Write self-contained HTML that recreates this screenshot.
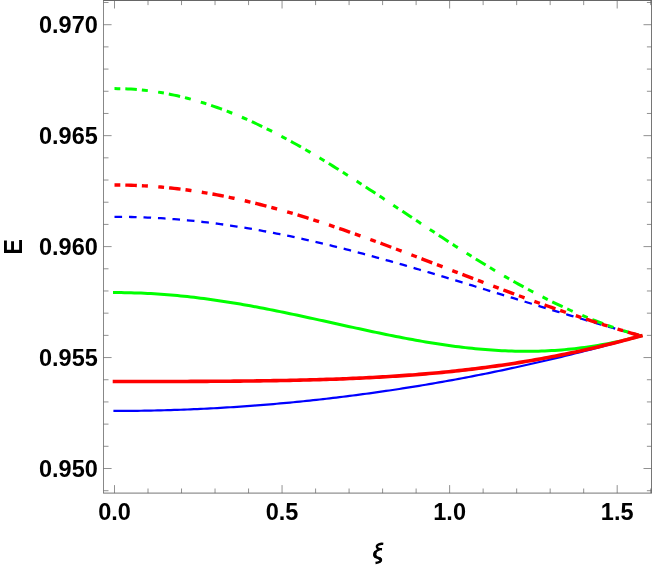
<!DOCTYPE html>
<html><head><meta charset="utf-8"><title>Plot</title>
<style>
html,body{margin:0;padding:0;background:#ffffff;}
body{width:654px;height:568px;overflow:hidden;font-family:"Liberation Sans",sans-serif;}
svg{display:block;will-change:transform;}
text{font-family:"Liberation Sans",sans-serif;font-weight:bold;font-size:23.5px;fill:#000;}
</style></head><body>
<svg width="654" height="568" viewBox="0 0 654 568">
<rect x="0" y="0" width="654" height="568" fill="#ffffff"/>
<g>
<path d="M114.50,410.95 L117.81,410.95 L121.12,410.94 L124.43,410.92 L127.74,410.90 L131.05,410.87 L134.36,410.84 L137.68,410.80 L140.99,410.76 L144.30,410.70 L147.61,410.65 L150.92,410.58 L154.23,410.51 L157.54,410.44 L160.85,410.36 L164.16,410.27 L167.47,410.17 L170.78,410.07 L174.09,409.97 L177.41,409.86 L180.72,409.74 L184.03,409.62 L187.34,409.49 L190.65,409.35 L193.96,409.21 L197.27,409.06 L200.58,408.91 L203.89,408.75 L207.20,408.58 L210.51,408.41 L213.82,408.23 L217.14,408.05 L220.45,407.86 L223.76,407.67 L227.07,407.47 L230.38,407.26 L233.69,407.05 L237.00,406.83 L240.31,406.60 L243.62,406.37 L246.93,406.14 L250.24,405.89 L253.55,405.65 L256.87,405.39 L260.18,405.13 L263.49,404.87 L266.80,404.60 L270.11,404.32 L273.42,404.04 L276.73,403.75 L280.04,403.45 L283.35,403.15 L286.66,402.85 L289.97,402.54 L293.28,402.22 L296.60,401.90 L299.91,401.57 L303.22,401.23 L306.53,400.89 L309.84,400.54 L313.15,400.19 L316.46,399.83 L319.77,399.47 L323.08,399.10 L326.39,398.72 L329.70,398.34 L333.01,397.95 L336.33,397.56 L339.64,397.16 L342.95,396.76 L346.26,396.35 L349.57,395.93 L352.88,395.51 L356.19,395.08 L359.50,394.64 L362.81,394.20 L366.12,393.76 L369.43,393.31 L372.74,392.85 L376.06,392.39 L379.37,391.92 L382.68,391.44 L385.99,390.96 L389.30,390.47 L392.61,389.98 L395.92,389.48 L399.23,388.97 L402.54,388.46 L405.85,387.94 L409.16,387.42 L412.47,386.89 L415.78,386.36 L419.10,385.82 L422.41,385.27 L425.72,384.72 L429.03,384.16 L432.34,383.59 L435.65,383.02 L438.96,382.44 L442.27,381.86 L445.58,381.27 L448.89,380.67 L452.20,380.07 L455.51,379.46 L458.83,378.85 L462.14,378.23 L465.45,377.60 L468.76,376.97 L472.07,376.33 L475.38,375.69 L478.69,375.04 L482.00,374.38 L485.31,373.72 L488.62,373.05 L491.93,372.38 L495.24,371.69 L498.56,371.01 L501.87,370.31 L505.18,369.62 L508.49,368.91 L511.80,368.20 L515.11,367.48 L518.42,366.76 L521.73,366.03 L525.04,365.29 L528.35,364.55 L531.66,363.80 L534.97,363.05 L538.29,362.29 L541.60,361.53 L544.91,360.75 L548.22,359.98 L551.53,359.19 L554.84,358.40 L558.15,357.61 L561.46,356.81 L564.77,356.00 L568.08,355.19 L571.39,354.37 L574.70,353.54 L578.02,352.71 L581.33,351.88 L584.64,351.04 L587.95,350.19 L591.26,349.34 L594.57,348.48 L597.88,347.62 L601.19,346.75 L604.50,345.87 L607.81,344.99 L611.12,344.11 L614.43,343.21 L617.75,342.32 L621.06,341.42 L624.37,340.51 L627.68,339.60 L630.99,338.68 L634.30,337.76 L637.61,336.83 L640.92,335.90" fill="none" stroke="#0000ff" stroke-width="2.2" stroke-linecap="square" stroke-linejoin="round"/>
<path d="M114.50,216.80 L117.81,216.81 L121.12,216.83 L124.43,216.87 L127.74,216.92 L131.05,216.98 L134.36,217.06 L137.68,217.16 L140.99,217.27 L144.30,217.39 L147.61,217.53 L150.92,217.68 L154.23,217.85 L157.54,218.03 L160.85,218.22 L164.16,218.43 L167.47,218.66 L170.78,218.90 L174.09,219.15 L177.41,219.41 L180.72,219.69 L184.03,219.99 L187.34,220.30 L190.65,220.62 L193.96,220.95 L197.27,221.30 L200.58,221.67 L203.89,222.04 L207.20,222.43 L210.51,222.84 L213.82,223.25 L217.14,223.68 L220.45,224.12 L223.76,224.58 L227.07,225.05 L230.38,225.53 L233.69,226.02 L237.00,226.53 L240.31,227.04 L243.62,227.57 L246.93,228.12 L250.24,228.67 L253.55,229.24 L256.87,229.82 L260.18,230.41 L263.49,231.01 L266.80,231.62 L270.11,232.24 L273.42,232.88 L276.73,233.52 L280.04,234.18 L283.35,234.85 L286.66,235.53 L289.97,236.22 L293.28,236.92 L296.60,237.62 L299.91,238.34 L303.22,239.07 L306.53,239.81 L309.84,240.56 L313.15,241.32 L316.46,242.08 L319.77,242.86 L323.08,243.64 L326.39,244.44 L329.70,245.24 L333.01,246.05 L336.33,246.87 L339.64,247.69 L342.95,248.53 L346.26,249.37 L349.57,250.22 L352.88,251.08 L356.19,251.94 L359.50,252.81 L362.81,253.69 L366.12,254.58 L369.43,255.47 L372.74,256.37 L376.06,257.27 L379.37,258.18 L382.68,259.10 L385.99,260.02 L389.30,260.95 L392.61,261.88 L395.92,262.82 L399.23,263.77 L402.54,264.71 L405.85,265.67 L409.16,266.62 L412.47,267.59 L415.78,268.55 L419.10,269.52 L422.41,270.50 L425.72,271.47 L429.03,272.46 L432.34,273.44 L435.65,274.43 L438.96,275.42 L442.27,276.41 L445.58,277.41 L448.89,278.41 L452.20,279.41 L455.51,280.41 L458.83,281.42 L462.14,282.43 L465.45,283.44 L468.76,284.45 L472.07,285.46 L475.38,286.48 L478.69,287.49 L482.00,288.51 L485.31,289.52 L488.62,290.54 L491.93,291.56 L495.24,292.58 L498.56,293.60 L501.87,294.62 L505.18,295.63 L508.49,296.65 L511.80,297.67 L515.11,298.69 L518.42,299.71 L521.73,300.72 L525.04,301.74 L528.35,302.76 L531.66,303.77 L534.97,304.78 L538.29,305.79 L541.60,306.80 L544.91,307.81 L548.22,308.82 L551.53,309.83 L554.84,310.83 L558.15,311.83 L561.46,312.83 L564.77,313.83 L568.08,314.82 L571.39,315.81 L574.70,316.80 L578.02,317.79 L581.33,318.77 L584.64,319.75 L587.95,320.73 L591.26,321.70 L594.57,322.68 L597.88,323.64 L601.19,324.61 L604.50,325.57 L607.81,326.53 L611.12,327.48 L614.43,328.44 L617.75,329.38 L621.06,330.33 L624.37,331.26 L627.68,332.20 L630.99,333.13 L634.30,334.06 L637.61,334.98 L640.92,335.90" fill="none" stroke="#0000ff" stroke-width="2.3" stroke-dasharray="7.6 6.9" stroke-linejoin="round"/>
<path d="M114.50,292.58 L117.81,292.59 L121.12,292.61 L124.43,292.66 L127.74,292.72 L131.05,292.79 L134.36,292.89 L137.68,293.00 L140.99,293.12 L144.30,293.27 L147.61,293.43 L150.92,293.60 L154.23,293.80 L157.54,294.00 L160.85,294.23 L164.16,294.47 L167.47,294.73 L170.78,295.00 L174.09,295.29 L177.41,295.60 L180.72,295.92 L184.03,296.26 L187.34,296.61 L190.65,296.97 L193.96,297.35 L197.27,297.75 L200.58,298.16 L203.89,298.58 L207.20,299.02 L210.51,299.47 L213.82,299.93 L217.14,300.41 L220.45,300.90 L223.76,301.40 L227.07,301.92 L230.38,302.45 L233.69,302.99 L237.00,303.54 L240.31,304.10 L243.62,304.67 L246.93,305.26 L250.24,305.85 L253.55,306.46 L256.87,307.07 L260.18,307.69 L263.49,308.32 L266.80,308.97 L270.11,309.61 L273.42,310.27 L276.73,310.94 L280.04,311.61 L283.35,312.29 L286.66,312.97 L289.97,313.66 L293.28,314.36 L296.60,315.06 L299.91,315.77 L303.22,316.48 L306.53,317.19 L309.84,317.91 L313.15,318.64 L316.46,319.36 L319.77,320.09 L323.08,320.82 L326.39,321.55 L329.70,322.28 L333.01,323.01 L336.33,323.74 L339.64,324.48 L342.95,325.21 L346.26,325.94 L349.57,326.67 L352.88,327.39 L356.19,328.12 L359.50,328.84 L362.81,329.56 L366.12,330.27 L369.43,330.98 L372.74,331.68 L376.06,332.38 L379.37,333.08 L382.68,333.76 L385.99,334.45 L389.30,335.12 L392.61,335.79 L395.92,336.44 L399.23,337.09 L402.54,337.73 L405.85,338.37 L409.16,338.99 L412.47,339.60 L415.78,340.20 L419.10,340.79 L422.41,341.37 L425.72,341.93 L429.03,342.49 L432.34,343.03 L435.65,343.55 L438.96,344.07 L442.27,344.57 L445.58,345.05 L448.89,345.52 L452.20,345.97 L455.51,346.41 L458.83,346.83 L462.14,347.24 L465.45,347.63 L468.76,348.00 L472.07,348.35 L475.38,348.69 L478.69,349.00 L482.00,349.30 L485.31,349.58 L488.62,349.83 L491.93,350.07 L495.24,350.29 L498.56,350.49 L501.87,350.66 L505.18,350.82 L508.49,350.95 L511.80,351.06 L515.11,351.15 L518.42,351.22 L521.73,351.26 L525.04,351.28 L528.35,351.28 L531.66,351.25 L534.97,351.20 L538.29,351.13 L541.60,351.03 L544.91,350.90 L548.22,350.76 L551.53,350.58 L554.84,350.38 L558.15,350.16 L561.46,349.91 L564.77,349.63 L568.08,349.33 L571.39,349.00 L574.70,348.65 L578.02,348.27 L581.33,347.86 L584.64,347.43 L587.95,346.97 L591.26,346.48 L594.57,345.96 L597.88,345.42 L601.19,344.85 L604.50,344.26 L607.81,343.63 L611.12,342.98 L614.43,342.31 L617.75,341.60 L621.06,340.87 L624.37,340.11 L627.68,339.32 L630.99,338.51 L634.30,337.67 L637.61,336.80 L640.92,335.90" fill="none" stroke="#00ff00" stroke-width="3.0" stroke-linecap="square" stroke-linejoin="round"/>
<path d="M114.50,88.62 L117.81,88.64 L121.12,88.70 L124.43,88.80 L127.74,88.94 L131.05,89.12 L134.36,89.35 L137.68,89.61 L140.99,89.91 L144.30,90.25 L147.61,90.63 L150.92,91.05 L154.23,91.51 L157.54,92.01 L160.85,92.55 L164.16,93.13 L167.47,93.75 L170.78,94.41 L174.09,95.10 L177.41,95.83 L180.72,96.60 L184.03,97.41 L187.34,98.25 L190.65,99.14 L193.96,100.05 L197.27,101.01 L200.58,102.00 L203.89,103.03 L207.20,104.09 L210.51,105.19 L213.82,106.32 L217.14,107.49 L220.45,108.69 L223.76,109.92 L227.07,111.19 L230.38,112.48 L233.69,113.82 L237.00,115.18 L240.31,116.57 L243.62,118.00 L246.93,119.45 L250.24,120.94 L253.55,122.45 L256.87,123.99 L260.18,125.57 L263.49,127.16 L266.80,128.79 L270.11,130.44 L273.42,132.12 L276.73,133.83 L280.04,135.55 L283.35,137.31 L286.66,139.08 L289.97,140.88 L293.28,142.71 L296.60,144.55 L299.91,146.42 L303.22,148.30 L306.53,150.21 L309.84,152.14 L313.15,154.08 L316.46,156.05 L319.77,158.03 L323.08,160.03 L326.39,162.04 L329.70,164.07 L333.01,166.11 L336.33,168.17 L339.64,170.24 L342.95,172.33 L346.26,174.43 L349.57,176.54 L352.88,178.66 L356.19,180.79 L359.50,182.93 L362.81,185.08 L366.12,187.24 L369.43,189.40 L372.74,191.57 L376.06,193.75 L379.37,195.93 L382.68,198.12 L385.99,200.31 L389.30,202.51 L392.61,204.71 L395.92,206.91 L399.23,209.11 L402.54,211.32 L405.85,213.52 L409.16,215.72 L412.47,217.93 L415.78,220.13 L419.10,222.32 L422.41,224.52 L425.72,226.71 L429.03,228.90 L432.34,231.08 L435.65,233.25 L438.96,235.42 L442.27,237.59 L445.58,239.74 L448.89,241.89 L452.20,244.03 L455.51,246.16 L458.83,248.28 L462.14,250.39 L465.45,252.48 L468.76,254.57 L472.07,256.64 L475.38,258.71 L478.69,260.75 L482.00,262.79 L485.31,264.81 L488.62,266.81 L491.93,268.80 L495.24,270.78 L498.56,272.73 L501.87,274.67 L505.18,276.60 L508.49,278.50 L511.80,280.39 L515.11,282.26 L518.42,284.10 L521.73,285.93 L525.04,287.74 L528.35,289.53 L531.66,291.30 L534.97,293.05 L538.29,294.77 L541.60,296.47 L544.91,298.15 L548.22,299.81 L551.53,301.45 L554.84,303.06 L558.15,304.64 L561.46,306.21 L564.77,307.75 L568.08,309.26 L571.39,310.75 L574.70,312.22 L578.02,313.65 L581.33,315.07 L584.64,316.45 L587.95,317.82 L591.26,319.15 L594.57,320.46 L597.88,321.74 L601.19,322.99 L604.50,324.22 L607.81,325.42 L611.12,326.59 L614.43,327.74 L617.75,328.86 L621.06,329.95 L624.37,331.01 L627.68,332.04 L630.99,333.05 L634.30,334.03 L637.61,334.98 L640.92,335.90" fill="none" stroke="#00ff00" stroke-width="3.0" stroke-dasharray="5.817 5.015 11.534 5.015 6.018 10.431" stroke-linejoin="round"/>
<path d="M114.50,381.55 L117.81,381.55 L121.12,381.55 L124.43,381.55 L127.74,381.55 L131.05,381.54 L134.36,381.54 L137.68,381.54 L140.99,381.54 L144.30,381.53 L147.61,381.53 L150.92,381.52 L154.23,381.52 L157.54,381.51 L160.85,381.51 L164.16,381.50 L167.47,381.49 L170.78,381.48 L174.09,381.47 L177.41,381.46 L180.72,381.45 L184.03,381.44 L187.34,381.43 L190.65,381.42 L193.96,381.40 L197.27,381.39 L200.58,381.37 L203.89,381.36 L207.20,381.34 L210.51,381.32 L213.82,381.30 L217.14,381.28 L220.45,381.26 L223.76,381.23 L227.07,381.21 L230.38,381.18 L233.69,381.15 L237.00,381.12 L240.31,381.09 L243.62,381.06 L246.93,381.02 L250.24,380.99 L253.55,380.95 L256.87,380.91 L260.18,380.86 L263.49,380.82 L266.80,380.77 L270.11,380.72 L273.42,380.67 L276.73,380.61 L280.04,380.55 L283.35,380.49 L286.66,380.43 L289.97,380.36 L293.28,380.30 L296.60,380.22 L299.91,380.15 L303.22,380.07 L306.53,379.99 L309.84,379.90 L313.15,379.81 L316.46,379.72 L319.77,379.62 L323.08,379.52 L326.39,379.42 L329.70,379.31 L333.01,379.20 L336.33,379.08 L339.64,378.96 L342.95,378.83 L346.26,378.70 L349.57,378.56 L352.88,378.42 L356.19,378.28 L359.50,378.13 L362.81,377.97 L366.12,377.81 L369.43,377.64 L372.74,377.47 L376.06,377.29 L379.37,377.11 L382.68,376.92 L385.99,376.72 L389.30,376.52 L392.61,376.31 L395.92,376.10 L399.23,375.87 L402.54,375.65 L405.85,375.41 L409.16,375.17 L412.47,374.92 L415.78,374.67 L419.10,374.40 L422.41,374.13 L425.72,373.85 L429.03,373.57 L432.34,373.28 L435.65,372.97 L438.96,372.67 L442.27,372.35 L445.58,372.02 L448.89,371.69 L452.20,371.35 L455.51,371.00 L458.83,370.64 L462.14,370.28 L465.45,369.90 L468.76,369.52 L472.07,369.12 L475.38,368.72 L478.69,368.31 L482.00,367.89 L485.31,367.46 L488.62,367.02 L491.93,366.58 L495.24,366.12 L498.56,365.65 L501.87,365.17 L505.18,364.69 L508.49,364.19 L511.80,363.69 L515.11,363.17 L518.42,362.65 L521.73,362.11 L525.04,361.56 L528.35,361.01 L531.66,360.44 L534.97,359.87 L538.29,359.28 L541.60,358.68 L544.91,358.08 L548.22,357.46 L551.53,356.83 L554.84,356.19 L558.15,355.54 L561.46,354.89 L564.77,354.22 L568.08,353.53 L571.39,352.84 L574.70,352.14 L578.02,351.43 L581.33,350.71 L584.64,349.97 L587.95,349.23 L591.26,348.48 L594.57,347.71 L597.88,346.94 L601.19,346.15 L604.50,345.35 L607.81,344.54 L611.12,343.73 L614.43,342.90 L617.75,342.06 L621.06,341.21 L624.37,340.35 L627.68,339.48 L630.99,338.60 L634.30,337.71 L637.61,336.81 L640.92,335.90" fill="none" stroke="#ff0000" stroke-width="3.6" stroke-linecap="square" stroke-linejoin="round"/>
<path d="M114.50,184.99 L117.81,185.00 L121.12,185.03 L124.43,185.09 L127.74,185.16 L131.05,185.25 L134.36,185.37 L137.68,185.51 L140.99,185.67 L144.30,185.84 L147.61,186.04 L150.92,186.27 L154.23,186.51 L157.54,186.77 L160.85,187.05 L164.16,187.36 L167.47,187.68 L170.78,188.02 L174.09,188.39 L177.41,188.77 L180.72,189.18 L184.03,189.60 L187.34,190.05 L190.65,190.51 L193.96,190.99 L197.27,191.49 L200.58,192.02 L203.89,192.56 L207.20,193.12 L210.51,193.70 L213.82,194.29 L217.14,194.91 L220.45,195.54 L223.76,196.19 L227.07,196.86 L230.38,197.55 L233.69,198.25 L237.00,198.98 L240.31,199.71 L243.62,200.47 L246.93,201.24 L250.24,202.03 L253.55,202.83 L256.87,203.65 L260.18,204.49 L263.49,205.34 L266.80,206.21 L270.11,207.09 L273.42,207.99 L276.73,208.90 L280.04,209.82 L283.35,210.76 L286.66,211.71 L289.97,212.68 L293.28,213.66 L296.60,214.65 L299.91,215.65 L303.22,216.67 L306.53,217.70 L309.84,218.74 L313.15,219.79 L316.46,220.85 L319.77,221.93 L323.08,223.01 L326.39,224.11 L329.70,225.21 L333.01,226.33 L336.33,227.45 L339.64,228.59 L342.95,229.73 L346.26,230.88 L349.57,232.04 L352.88,233.21 L356.19,234.38 L359.50,235.56 L362.81,236.75 L366.12,237.95 L369.43,239.15 L372.74,240.36 L376.06,241.58 L379.37,242.80 L382.68,244.03 L385.99,245.26 L389.30,246.49 L392.61,247.73 L395.92,248.98 L399.23,250.23 L402.54,251.48 L405.85,252.74 L409.16,254.00 L412.47,255.26 L415.78,256.52 L419.10,257.79 L422.41,259.06 L425.72,260.33 L429.03,261.60 L432.34,262.87 L435.65,264.15 L438.96,265.42 L442.27,266.69 L445.58,267.97 L448.89,269.24 L452.20,270.52 L455.51,271.79 L458.83,273.06 L462.14,274.34 L465.45,275.61 L468.76,276.87 L472.07,278.14 L475.38,279.41 L478.69,280.67 L482.00,281.93 L485.31,283.18 L488.62,284.44 L491.93,285.69 L495.24,286.94 L498.56,288.18 L501.87,289.42 L505.18,290.65 L508.49,291.89 L511.80,293.11 L515.11,294.33 L518.42,295.55 L521.73,296.76 L525.04,297.97 L528.35,299.17 L531.66,300.37 L534.97,301.56 L538.29,302.75 L541.60,303.93 L544.91,305.10 L548.22,306.27 L551.53,307.43 L554.84,308.58 L558.15,309.73 L561.46,310.87 L564.77,312.00 L568.08,313.12 L571.39,314.24 L574.70,315.35 L578.02,316.46 L581.33,317.56 L584.64,318.64 L587.95,319.72 L591.26,320.80 L594.57,321.86 L597.88,322.92 L601.19,323.97 L604.50,325.01 L607.81,326.04 L611.12,327.07 L614.43,328.08 L617.75,329.09 L621.06,330.09 L624.37,331.08 L627.68,332.06 L630.99,333.03 L634.30,334.00 L637.61,334.95 L640.92,335.90" fill="none" stroke="#ff0000" stroke-width="3.4" stroke-dasharray="5.817 5.015 11.534 5.015 6.018 10.431" stroke-linejoin="round"/>
</g>
<g stroke="#666666" fill="none">
<line x1="103.1" y1="0.5" x2="651.9" y2="0.5" stroke-width="1"/>
<line x1="103.1" y1="493.1" x2="651.9" y2="493.1" stroke-width="0.9"/>
<line x1="103.5" y1="0.5" x2="103.5" y2="493.1" stroke-width="0.78"/>
<line x1="651.5" y1="0.5" x2="651.5" y2="493.1" stroke-width="0.9"/>
</g>
<g stroke="#666666" stroke-width="0.72" fill="none">
<line x1="103.5" y1="2.51" x2="108.5" y2="2.51"/><line x1="651.5" y1="2.51" x2="646.9" y2="2.51"/>
<line x1="103.5" y1="24.70" x2="111.6" y2="24.70"/><line x1="651.5" y1="24.70" x2="643.5" y2="24.70"/>
<line x1="103.5" y1="46.89" x2="108.5" y2="46.89"/><line x1="651.5" y1="46.89" x2="646.9" y2="46.89"/>
<line x1="103.5" y1="69.08" x2="108.5" y2="69.08"/><line x1="651.5" y1="69.08" x2="646.9" y2="69.08"/>
<line x1="103.5" y1="91.27" x2="108.5" y2="91.27"/><line x1="651.5" y1="91.27" x2="646.9" y2="91.27"/>
<line x1="103.5" y1="113.46" x2="108.5" y2="113.46"/><line x1="651.5" y1="113.46" x2="646.9" y2="113.46"/>
<line x1="103.5" y1="135.65" x2="111.6" y2="135.65"/><line x1="651.5" y1="135.65" x2="643.5" y2="135.65"/>
<line x1="103.5" y1="157.84" x2="108.5" y2="157.84"/><line x1="651.5" y1="157.84" x2="646.9" y2="157.84"/>
<line x1="103.5" y1="180.03" x2="108.5" y2="180.03"/><line x1="651.5" y1="180.03" x2="646.9" y2="180.03"/>
<line x1="103.5" y1="202.22" x2="108.5" y2="202.22"/><line x1="651.5" y1="202.22" x2="646.9" y2="202.22"/>
<line x1="103.5" y1="224.41" x2="108.5" y2="224.41"/><line x1="651.5" y1="224.41" x2="646.9" y2="224.41"/>
<line x1="103.5" y1="246.60" x2="111.6" y2="246.60"/><line x1="651.5" y1="246.60" x2="643.5" y2="246.60"/>
<line x1="103.5" y1="268.79" x2="108.5" y2="268.79"/><line x1="651.5" y1="268.79" x2="646.9" y2="268.79"/>
<line x1="103.5" y1="290.98" x2="108.5" y2="290.98"/><line x1="651.5" y1="290.98" x2="646.9" y2="290.98"/>
<line x1="103.5" y1="313.17" x2="108.5" y2="313.17"/><line x1="651.5" y1="313.17" x2="646.9" y2="313.17"/>
<line x1="103.5" y1="335.36" x2="108.5" y2="335.36"/><line x1="651.5" y1="335.36" x2="646.9" y2="335.36"/>
<line x1="103.5" y1="357.55" x2="111.6" y2="357.55"/><line x1="651.5" y1="357.55" x2="643.5" y2="357.55"/>
<line x1="103.5" y1="379.74" x2="108.5" y2="379.74"/><line x1="651.5" y1="379.74" x2="646.9" y2="379.74"/>
<line x1="103.5" y1="401.93" x2="108.5" y2="401.93"/><line x1="651.5" y1="401.93" x2="646.9" y2="401.93"/>
<line x1="103.5" y1="424.12" x2="108.5" y2="424.12"/><line x1="651.5" y1="424.12" x2="646.9" y2="424.12"/>
<line x1="103.5" y1="446.31" x2="108.5" y2="446.31"/><line x1="651.5" y1="446.31" x2="646.9" y2="446.31"/>
<line x1="103.5" y1="468.50" x2="111.6" y2="468.50"/><line x1="651.5" y1="468.50" x2="643.5" y2="468.50"/>
<line x1="103.5" y1="490.69" x2="108.5" y2="490.69"/><line x1="651.5" y1="490.69" x2="646.9" y2="490.69"/>
<line x1="114.50" y1="493.1" x2="114.50" y2="485.1"/><line x1="114.50" y1="0.5" x2="114.50" y2="8.5"/>
<line x1="148.01" y1="493.1" x2="148.01" y2="488.5"/><line x1="148.01" y1="0.5" x2="148.01" y2="5.1"/>
<line x1="181.53" y1="493.1" x2="181.53" y2="488.5"/><line x1="181.53" y1="0.5" x2="181.53" y2="5.1"/>
<line x1="215.04" y1="493.1" x2="215.04" y2="488.5"/><line x1="215.04" y1="0.5" x2="215.04" y2="5.1"/>
<line x1="248.55" y1="493.1" x2="248.55" y2="488.5"/><line x1="248.55" y1="0.5" x2="248.55" y2="5.1"/>
<line x1="282.06" y1="493.1" x2="282.06" y2="485.1"/><line x1="282.06" y1="0.5" x2="282.06" y2="8.5"/>
<line x1="315.58" y1="493.1" x2="315.58" y2="488.5"/><line x1="315.58" y1="0.5" x2="315.58" y2="5.1"/>
<line x1="349.09" y1="493.1" x2="349.09" y2="488.5"/><line x1="349.09" y1="0.5" x2="349.09" y2="5.1"/>
<line x1="382.60" y1="493.1" x2="382.60" y2="488.5"/><line x1="382.60" y1="0.5" x2="382.60" y2="5.1"/>
<line x1="416.12" y1="493.1" x2="416.12" y2="488.5"/><line x1="416.12" y1="0.5" x2="416.12" y2="5.1"/>
<line x1="449.63" y1="493.1" x2="449.63" y2="485.1"/><line x1="449.63" y1="0.5" x2="449.63" y2="8.5"/>
<line x1="483.14" y1="493.1" x2="483.14" y2="488.5"/><line x1="483.14" y1="0.5" x2="483.14" y2="5.1"/>
<line x1="516.66" y1="493.1" x2="516.66" y2="488.5"/><line x1="516.66" y1="0.5" x2="516.66" y2="5.1"/>
<line x1="550.17" y1="493.1" x2="550.17" y2="488.5"/><line x1="550.17" y1="0.5" x2="550.17" y2="5.1"/>
<line x1="583.68" y1="493.1" x2="583.68" y2="488.5"/><line x1="583.68" y1="0.5" x2="583.68" y2="5.1"/>
<line x1="617.19" y1="493.1" x2="617.19" y2="485.1"/><line x1="617.19" y1="0.5" x2="617.19" y2="8.5"/>
<line x1="650.71" y1="493.1" x2="650.71" y2="488.5"/><line x1="650.71" y1="0.5" x2="650.71" y2="5.1"/>
</g>
<g>
<text x="97.8" y="32.90" text-anchor="end">0.970</text>
<text x="97.8" y="143.85" text-anchor="end">0.965</text>
<text x="97.8" y="254.80" text-anchor="end">0.960</text>
<text x="97.8" y="365.75" text-anchor="end">0.955</text>
<text x="97.8" y="476.70" text-anchor="end">0.950</text>
<text x="114.50" y="520.3" text-anchor="middle">0.0</text>
<text x="282.06" y="520.3" text-anchor="middle">0.5</text>
<text x="449.63" y="520.3" text-anchor="middle">1.0</text>
<text x="617.19" y="520.3" text-anchor="middle">1.5</text>
</g>
<text transform="translate(21.7,246.8) rotate(-90) scale(0.925,1)" text-anchor="middle" style="font-size:24.9px">E</text>
<g transform="translate(362,536) scale(0.056306)" fill="none" stroke="#000" stroke-width="43" stroke-linecap="butt" stroke-linejoin="round"><title>ξ</title>
<path d="M378,140 C325,132 262,150 264,192 C266,226 310,234 356,236"/>
<path d="M318,232 C262,250 218,296 220,340 C223,388 332,384 336,426 C339,460 292,474 240,480"/>
<path d="M244,280 C220,312 220,350 250,372" stroke-width="56"/>
<path d="M300,392 C330,404 338,420 330,444" stroke-width="50"/>
</g>
</svg>
</body></html>
